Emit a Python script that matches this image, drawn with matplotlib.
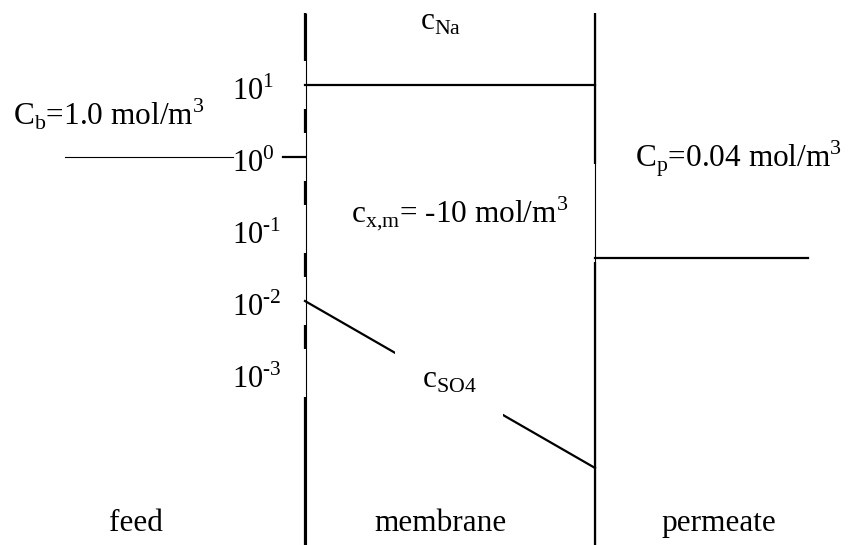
import matplotlib
matplotlib.use("Agg")
import matplotlib.pyplot as plt
from matplotlib import transforms

plt.rcParams["font.family"] = "Liberation Serif"

# concentration profiles across a charged membrane (x = 0 feed side, x = 1 permeate side)
decades = [1, 0, -1, -2, -3]
tick_labels = [
    r"10$^{\mathregular{1}}$",
    r"10$^{\mathregular{0}}$",
    r"10$^{\mathregular{‐1}}$",
    r"10$^{\mathregular{‐2}}$",
    r"10$^{\mathregular{‐3}}$",
]
regions = ["feed", "membrane", "permeate"]
region_x = [-0.583, 0.466, 1.428]

c_bulk = 1.0        # mol/m3, feed
c_perm = 0.04       # mol/m3, permeate
c_fixed = -10       # mol/m3, fixed membrane charge
x_membrane = [0.0, 1.0]
c_na = [10.0, 10.0]
c_so4 = [1.0e-2, 4.8e-5]
x_feed = [-0.828, -0.248]
x_perm = [1.0, 1.734]

y_top = 100.0
y_bot = 10 ** -5.5

fig = plt.figure(figsize=(8.48, 5.45), dpi=100)
ax = fig.add_axes([0, 0, 1, 1])
ax.set_yscale("log")
ax.set_xlim(-1.0517, 1.8724)
ax.set_ylim(10 ** -5.389, 10 ** 2.181)
ax.axis("off")

# membrane boundaries: thick line broken around the decade labels, thin line on top
bounds = [y_top]
for d in decades:
    bounds += [10 ** (d + 1 / 3), 10 ** (d - 1 / 3)]
bounds.append(y_bot)
seg_hi = bounds[0::2]
seg_lo = bounds[1::2]
ax.vlines([0] * len(seg_lo), seg_lo, seg_hi, color="black", lw=1.6, zorder=2)
ax.vlines(0.002, y_bot, y_top, color="black", lw=0.8, zorder=4)
ax.vlines(1, y_bot, y_top, color="black", lw=1.6, zorder=2)
ax.vlines(1, y_bot, y_top, color="black", lw=0.8, zorder=4)
ax.plot([-0.076, 0], [1, 1], color="black", lw=1.6, zorder=2)

# profiles
ax.plot(x_feed, [c_bulk, c_bulk], color="black", lw=0.8, zorder=2)
ax.plot(x_membrane, c_na, color="black", lw=1.6, zorder=2)
ax.plot(x_membrane, c_so4, color="black", lw=1.6, zorder=2)
ax.plot(x_perm, [c_perm, c_perm], color="black", lw=1.6, zorder=4)

# decade labels
lab_tr = transforms.offset_copy(ax.transData, fig=fig, x=0, y=-15, units="dots")
for d, lab in zip(decades, tick_labels):
    ax.text(-0.2517, 10.0 ** d, lab, transform=lab_tr, fontsize=22,
            ha="left", va="baseline", zorder=3)

fs = 22.5
ax.text(0.0153, 0.7706, r"C$_{\mathregular{b}}$=%.1f mol/m$^{\mathregular{3}}$" % c_bulk,
        transform=ax.transAxes, fontsize=fs, ha="left", va="baseline", zorder=3)
ax.text(0.7488, 0.6936, r"C$_{\mathregular{p}}$=%.2f mol/m$^{\mathregular{3}}$" % c_perm,
        transform=ax.transAxes, fontsize=fs, ha="left", va="baseline", zorder=3)
ax.text(0.4953, 0.945, r"c$_{\mathregular{Na}}$",
        transform=ax.transAxes, fontsize=fs, ha="left", va="baseline", zorder=3)
ax.text(0.4135, 0.5927, r"c$_{\mathregular{x{,}m}}$= %d mol/m$^{\mathregular{3}}$" % c_fixed,
        transform=ax.transAxes, fontsize=fs, ha="left", va="baseline", zorder=3,
        bbox=dict(boxstyle="square,pad=0.95", fc="white", ec="none"))
ax.text(0.4976, 0.288, r"c$_{\mathregular{SO4}}$",
        transform=ax.transAxes, fontsize=fs, ha="left", va="baseline", zorder=3,
        bbox=dict(boxstyle="square,pad=0.85", fc="white", ec="none"))

for x, name in zip(region_x, regions):
    ax.text(x, 10 ** -5.194, name, fontsize=fs, ha="center", va="baseline")

fig.savefig("out.png", dpi=100)
